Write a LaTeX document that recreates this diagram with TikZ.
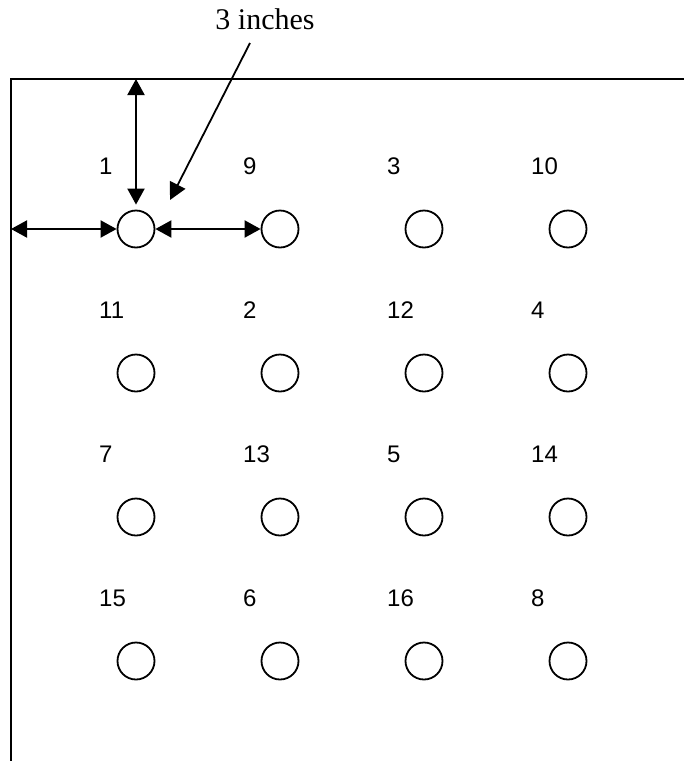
\documentclass[tikz,border=0pt]{standalone}
\usepackage{fontspec}
\setmainfont{Liberation Serif}
\setsansfont{Liberation Sans}
\usetikzlibrary{arrows.meta}

\tikzset{
  hole/.style={draw,circle,line width=1.8pt,minimum size=37pt,inner sep=0pt},
  holenum/.style={anchor=west,inner sep=0pt,font=\sffamily\fontsize{24}{28}\selectfont},
  dimarrow/.style={line width=2pt,{Triangle[length=16pt,width=17pt]}-{Triangle[length=16pt,width=17pt]}},
  pointer/.style={line width=1.8pt,-{Triangle[length=17pt,width=17pt]}}
}

\begin{document}
\begin{tikzpicture}[x=1pt,y=-1pt]
    \useasboundingbox (0,0) rectangle (684,761);

    % frame edges
    \draw[line width=2pt] (11,761) -- (11,79) -- (684,79);

    % holes, numbered row by row
    \foreach \row/\labels in {1/{1,9,3,10},2/{11,2,12,4},3/{7,13,5,14},4/{15,6,16,8}} {
      \foreach \n [count=\col] in \labels {
        \node[hole] (c\n) at ({136+144*(\col-1)},{229+144*(\row-1)}) {};
        \node[holenum] (n\n) at ({99+144*(\col-1)},{166+144*(\row-1)}) {\n};
      }
    }

    % spacing
    \coordinate (edgetop) at (136,79);
    \coordinate (edgeleft) at (11,229);
    \draw[dimarrow,shorten >=5pt] (edgetop) -- (c1.north);
    \draw[dimarrow] (edgeleft) -- (c1.west);
    \draw[dimarrow] (c1.east) -- (c9.west);

    \node[anchor=base,inner sep=0pt,font=\fontsize{30}{34}\selectfont] (dist) at (265,29) {3 inches};
    \coordinate (ptrstart) at (250,43);
    \coordinate (ptrend) at (170,200);
    \draw[pointer] (ptrstart) -- (ptrend);
\end{tikzpicture}
\end{document}
